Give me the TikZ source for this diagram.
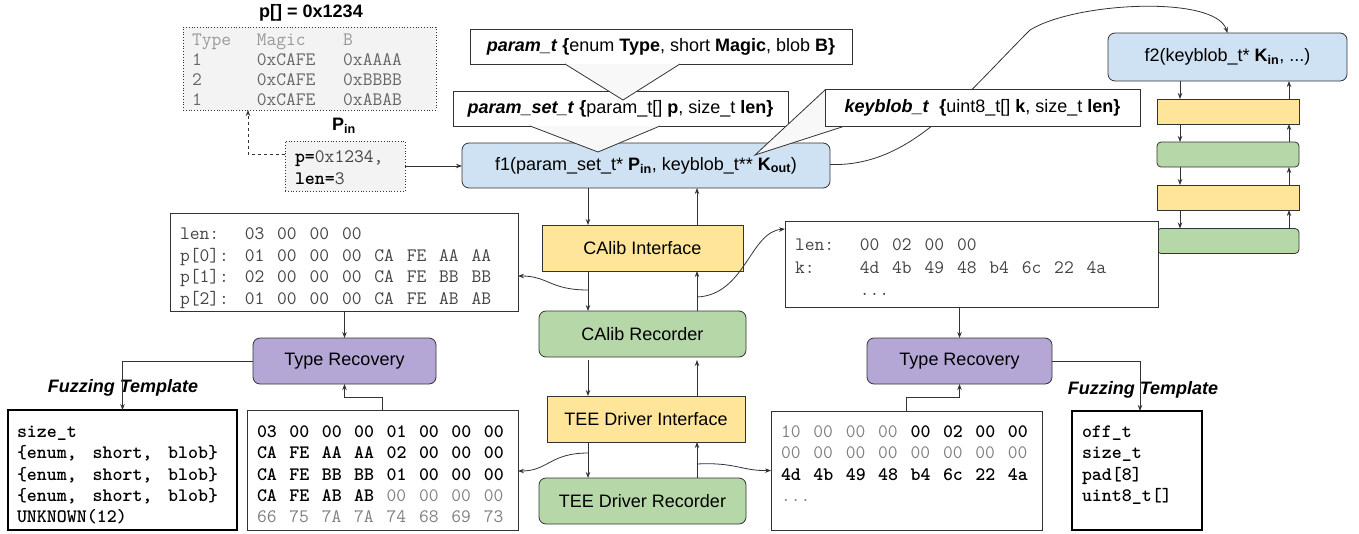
\documentclass[tikz,border=0pt]{standalone}
\usepackage{fontspec}
\setmainfont{Liberation Sans}
\usetikzlibrary{arrows.meta}
\definecolor{cblue}{HTML}{CFE2F3}
\definecolor{cyel}{HTML}{FFE599}
\definecolor{cgreen}{HTML}{B6D7A8}
\definecolor{cpurp}{HTML}{B4A7D6}
\definecolor{ctbl}{HTML}{F3F3F3}
\definecolor{cedge}{HTML}{333333}
\definecolor{ctxt}{HTML}{444444}
\definecolor{clight}{HTML}{999999}
\definecolor{cmid}{HTML}{666666}
\definecolor{cdim}{HTML}{808080}
\definecolor{cptr}{HTML}{F8F8F8}
\newcommand{\mysz}{\fontsize{18}{21}\selectfont}
\newcommand{\mymono}{\fontsize{19}{22}\selectfont\ttfamily}
% a row of two-character bytes on a fixed 3-column grid (10.8pt per column)
\newcommand{\bytrow}[5]{\foreach \tok [count=\i from 0] in {#5} {\node[#4] (#1-\i) at ({#2+32.4*\i},#3) {\tok};}}
\begin{document}
\begin{tikzpicture}[x=1pt,y=-1pt,
  every node/.style={inner sep=0pt, outer sep=0pt},
  sbox/.style={draw=cedge, line width=0.8pt, font=\mysz, align=center},
  rbox/.style={sbox, rounded corners=7pt},
  mbox/.style={draw=cedge, line width=0.8pt, fill=white},
  fzbox/.style={draw=black, line width=2pt, fill=white},
  dotbox/.style={draw=cedge, dotted, line width=0.8pt, fill=ctbl},
  tok/.style={anchor=base west, font=\mymono, text=ctxt},
  tokb/.style={anchor=base west, font=\mymono\bfseries, text=black},
  tokd/.style={anchor=base west, font=\mymono, text=cdim},
  tokm/.style={anchor=base west, font=\mymono, text=cmid},
  tokl/.style={anchor=base west, font=\mymono, text=clight},
  arr/.style={draw=cedge, line width=0.8pt, -{Stealth[length=6pt,width=4.5pt]}},
  ptr/.style={draw=cedge, line width=0.8pt, fill=cptr},
  lbl/.style={font=\mysz\bfseries},
  flbl/.style={font=\mysz\bfseries\itshape}
]
\useasboundingbox (0,0) rectangle (1359,533);

% top-left table and P_in
\node[lbl] (ptitle) at (311,13) {p[] = 0x1234};
\node[dotbox, minimum width=253pt, minimum height=83pt] (tbl) at (309.5,68.5) {};
\node[tokl] (tb-h0) at (192,45.5) {Type};
\node[tokl] (tb-h1) at (256.8,45.5) {Magic};
\node[tokl] (tb-h2) at (343.2,45.5) {B};
\foreach \n/\v/\y [count=\r] in {1/0xAAAA/65.5, 2/0xBBBB/85.5, 1/0xABAB/105.5} {
  \node[tokm] (tb-\r a) at (192,\y) {\n};
  \node[tokm] (tb-\r b) at (256.8,\y) {0xCAFE};
  \node[tokm] (tb-\r c) at (343.2,\y) {\v};
}
\node[lbl] (pinl) at (344,126) {P\textsubscript{in}};
\node[dotbox, minimum width=120pt, minimum height=50pt] (pin) at (345,166) {};
\node[tok] (pn-0) at (295,162.5) {\textcolor{black}{\bfseries p=}0x1234,};
\node[tok] (pn-1) at (295,184) {\textcolor{black}{\bfseries len=}3};

% type callouts and functions
\node[sbox, fill=white, minimum width=382pt, minimum height=35pt] (pt) at (661,46.5)
  {\textbf{\textit{param\_t}} \textbf{\{}enum \textbf{Type}, short \textbf{Magic}, blob \textbf{B\}}};
\node[sbox, fill=white, minimum width=335pt, minimum height=35pt] (pst) at (620.5,108.5)
  {\textbf{\textit{param\_set\_t}} \textbf{\{}param\_t[] \textbf{p}, size\_t \textbf{len\}}};
\node[rbox, fill=cblue, minimum width=368pt, minimum height=45pt] (f1) at (646,165.5)
  {f1(param\_set\_t* \textbf{P}\textsubscript{\textbf{in}}, keyblob\_t** \textbf{K}\textsubscript{\textbf{out}})};
\node[rbox, fill=cblue, minimum width=239pt, minimum height=48pt] (f2) at (1227.5,57)
  {f2(keyblob\_t* \textbf{K}\textsubscript{\textbf{in}}, ...)};

\draw[arr] ([yshift=1pt]f1.east) .. controls (910,167) and (960,100) .. (1030,30)
  .. controls (1075,2) and (1215,-5) .. (f2.north);

\draw[ptr] ([xshift=-96pt]pt.south) -- (623,100) -- ([xshift=19pt]pt.south);
\draw[ptr] ([xshift=-90.5pt]pst.south) -- (598,152) -- ([xshift=39.5pt]pst.south);
\draw[ptr] ([yshift=-1pt]825,89) -- (755,155) -- (845,126);
\node[sbox, fill=white, minimum width=315pt, minimum height=37pt] (kb) at (982.5,107.5)
  {\textbf{\textit{keyblob\_t}}\ \ \textbf{\{}uint8\_t[] \textbf{k}, size\_t \textbf{len\}}};

% right stack
\node[draw=cedge, line width=0.8pt, fill=cyel, minimum width=142pt, minimum height=25pt] (s1) at (1228,111.5) {};
\node[draw=cedge, line width=0.8pt, fill=cgreen, rounded corners=4pt, minimum width=142pt, minimum height=25pt] (s2) at (1228,154.5) {};
\node[draw=cedge, line width=0.8pt, fill=cyel, minimum width=142pt, minimum height=25pt] (s3) at (1228,197.5) {};
\node[draw=cedge, line width=0.8pt, fill=cgreen, rounded corners=4pt, minimum width=142pt, minimum height=25pt] (s4) at (1228,241) {};
\coordinate (sl) at (1180,0);
\coordinate (sr) at (1289,0);
\draw[arr] (f2.south -| sl) -- (s1.north -| sl);
\draw[arr] (s1.north -| sr) -- (f2.south -| sr);
\foreach \a/\b in {s1/s2, s2/s3, s3/s4} {
  \draw[arr] (\a.south -| sl) -- (\b.north -| sl);
  \draw[arr] (\b.north -| sr) -- (\a.south -| sr);
}

% centre column
\node[sbox, fill=cyel, minimum width=201pt, minimum height=46pt] (ci) at (642.5,248) {CAlib Interface};
\node[rbox, fill=cgreen, minimum width=207pt, minimum height=46pt] (cr) at (642.5,334) {CAlib Recorder};
\node[sbox, fill=cyel, minimum width=198pt, minimum height=46pt] (ti) at (646,419) {TEE Driver Interface};
\node[rbox, fill=cgreen, minimum width=207pt, minimum height=46pt] (tr) at (642.5,501) {TEE Driver Recorder};
\coordinate (xl) at (588,0);
\coordinate (xr) at (697,0);
\draw[arr] (f1.south -| xl) -- (ci.north -| xl);
\draw[arr] (ci.north -| xr) -- (f1.south -| xr);
\draw[arr] (ci.south -| xl) -- (cr.north -| xl);
\draw[arr] (cr.north -| xr) -- (ci.south -| xr);
\draw[arr] ([yshift=-3pt]cr.south -| xl) -- (ti.north -| xl);
\draw[arr] (ti.north -| xr) -- ([yshift=-3pt]cr.south -| xr);
\draw[arr] (ti.south -| xl) -- (tr.north -| xl);
\draw[arr] (tr.north -| xr) -- (ti.south -| xr);

% memory boxes
\node[mbox, minimum width=348pt, minimum height=98pt] (mem1) at (344,262) {};
\node[tok] (ma-l0) at (180,239.5) {len:};
\bytrow{ma-r0}{244.8}{239.5}{tok}{03,00,00,00}
\node[tok] (ma-l1) at (180,261) {p[0]:};
\bytrow{ma-r1}{244.8}{261}{tok}{01,00,00,00,CA,FE,AA,AA}
\node[tok] (ma-l2) at (180,282.5) {p[1]:};
\bytrow{ma-r2}{244.8}{282.5}{tok}{02,00,00,00,CA,FE,BB,BB}
\node[tok] (ma-l3) at (180,304) {p[2]:};
\bytrow{ma-r3}{244.8}{304}{tok}{01,00,00,00,CA,FE,AB,AB}

\node[mbox, minimum width=373pt, minimum height=86pt] (mem2) at (971.5,264) {};
\node[tok] (mb-l0) at (795,250.5) {len:};
\bytrow{mb-r0}{859.8}{250.5}{tok}{00,02,00,00}
\node[tok] (mb-l1) at (795,273.5) {k:};
\bytrow{mb-r1}{859.8}{273.5}{tok}{4d,4b,49,48,b4,6c,22,4a}
\node[tok] (mb-r2) at (859.8,295.5) {...};

\coordinate (c1) at (588,290);
\coordinate (c2) at (697,297);
\coordinate (c3) at (588,453);
\coordinate (c4) at (697,464);

% type recovery
\node[rbox, fill=cpurp, minimum width=183pt, minimum height=46pt] (tr1) at (344.5,361) {Type Recovery};
\node[rbox, fill=cpurp, minimum width=185pt, minimum height=46pt] (tr2) at (959.5,361) {Type Recovery};

% bottom-left fuzzing template
\node[fzbox, minimum width=229pt, minimum height=120pt] (fz1) at (122.5,470) {};
\node[tokb] (za-0) at (17,437.5) {size\_t};
\foreach \y [count=\r] in {458.8, 480.1, 501.4} {
  \node[tokb] (za-\r a) at (17,\y) {\{enum,};
  \node[tokb] (za-\r b) at (92.6,\y) {short,};
  \node[tokb] (za-\r c) at (168.2,\y) {blob\}};
}
\node[tokb] (za-4) at (17,522.7) {UNKNOWN(12)};

% bottom-left bytes
\node[mbox, minimum width=271pt, minimum height=120pt] (by1) at (382.5,470) {};
\bytrow{ya-0}{257}{437.5}{tokb}{03,00,00,00,01,00,00,00}
\bytrow{ya-1}{257}{458.8}{tokb}{CA,FE,AA,AA,02,00,00,00}
\bytrow{ya-2}{257}{480.1}{tokb}{CA,FE,BB,BB,01,00,00,00}
\bytrow{ya-3a}{257}{501.4}{tokb}{CA,FE,AB,AB}
\bytrow{ya-3b}{386.6}{501.4}{tokd}{00,00,00,00}
\bytrow{ya-4}{257}{522.7}{tokd}{66,75,7A,7A,74,68,69,73}

% bottom-right bytes
\node[mbox, minimum width=271pt, minimum height=119pt] (by2) at (906.5,470.5) {};
\bytrow{yb-0a}{781}{437.5}{tokd}{10,00,00,00}
\bytrow{yb-0b}{910.6}{437.5}{tokb}{00,02,00,00}
\bytrow{yb-1}{781}{458.8}{tokd}{00,00,00,00,00,00,00,00}
\bytrow{yb-2}{781}{480.1}{tokb}{4d,4b,49,48,b4,6c,22,4a}
\node[tokd] (yb-3) at (781,501.4) {...};

% bottom-right fuzzing template
\node[fzbox, minimum width=130pt, minimum height=119pt] (fz2) at (1137,470.5) {};
\node[tokb] (zb-0) at (1082,437.5) {off\_t};
\node[tokb] (zb-1) at (1082,458.8) {size\_t};
\node[tokb] (zb-2) at (1082,480.1) {pad[8]};
\node[tokb] (zb-3) at (1082,501.4) {uint8\_t[]};

\node[flbl] (ft1) at (123,388) {Fuzzing Template};
\node[flbl] (ft2) at (1143,390) {Fuzzing Template};

% connectors
\draw[arr] (c1) .. controls (550,290) and (548,276) .. ([yshift=-14pt]mem1.east);
\draw[arr] (c2) .. controls (745,295) and (750,232) .. ([yshift=35pt]mem2.west);
\draw[arr] (c3) .. controls (550,453) and (548,471) .. ([yshift=-1pt]by1.east);
\draw[arr] (c4) .. controls (735,462) and (742,471) .. (by2.west);

\draw[arr] (mem1.south -| tr1) -- (tr1.north);
\draw[arr] (mem2.south -| tr2) -- (tr2.north);
\draw[arr] (tr1.west) -| (fz1.north);
\draw[arr] (tr2.east) -| ([xshift=3pt]fz2.north);
\coordinate (b1) at (382.5,397);
\coordinate (b2) at (906.5,397);
\draw[arr] (by1.north -| b1) -- (b1) -| (tr1.south);
\draw[arr] (by2.north -| b2) -- (b2) -| (tr2.south);

\coordinate (tx) at (248,154);
\draw[arr, dashed] (pin.west |- tx) -- (tx) -- (tbl.south -| tx);
\draw[arr] (pin.east) -- (pin.east -| f1.west);
\end{tikzpicture}
\end{document}
